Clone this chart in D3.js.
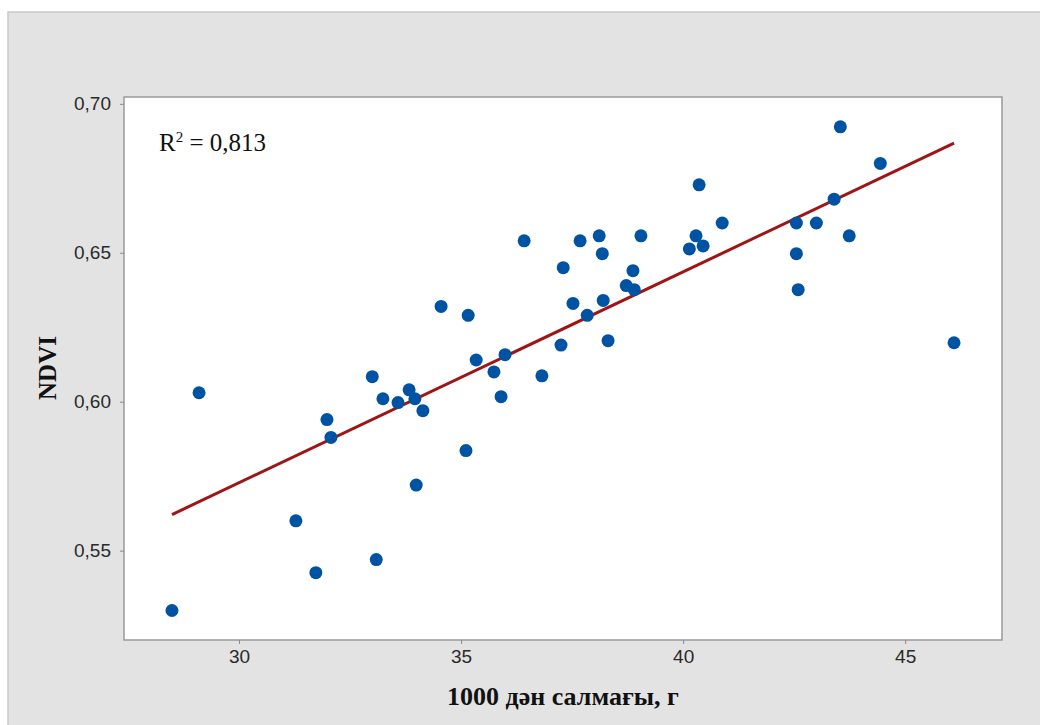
<!DOCTYPE html>
<html>

<head>
    <script src="https://d3js.org/d3.v7.min.js"></script>
    <style>
        body {
            margin: 0;
            background: #ffffff;
        }
    </style>
</head>

<body>
    <svg id="chart" width="1040" height="725"></svg>

    <script>
        // 1000 grain weight (g) vs NDVI
        var grainWeight = [
            28.49, 29.10, 31.28, 31.73, 31.98, 32.07, 33.00, 33.09, 33.24, 33.58,
            33.83, 33.96, 33.99, 34.14, 34.55, 35.11, 35.16, 35.34, 35.74, 35.90,
            35.99, 36.42, 36.82, 37.25, 37.30, 37.52, 37.68, 37.84, 38.11, 38.18,
            38.20, 38.31, 38.72, 38.87, 38.90, 39.05, 40.14, 40.29, 40.36, 40.45,
            40.88, 42.55, 42.55, 42.59, 43.00, 43.40, 43.54, 43.74, 44.44, 46.10
        ];

        var ndvi = [
            0.5299, 0.6030, 0.5600, 0.5426, 0.5940, 0.5880, 0.6084, 0.5470, 0.6010, 0.5997,
            0.6040, 0.6010, 0.5720, 0.5970, 0.6320, 0.5836, 0.6290, 0.6140, 0.6100, 0.6017,
            0.6158, 0.6540, 0.6087, 0.6190, 0.6450, 0.6330, 0.6540, 0.6290, 0.6557, 0.6497,
            0.6340, 0.6205, 0.6390, 0.6440, 0.6376, 0.6557, 0.6513, 0.6557, 0.6728, 0.6523,
            0.6600, 0.6600, 0.6497, 0.6376, 0.6600, 0.6680, 0.6923, 0.6557, 0.6800, 0.6198
        ];

        var xTicks = [30, 35, 40, 45];
        var yTicks = [0.55, 0.60, 0.65, 0.70];

        // fitted line
        var fitSlope = 0.00708;
        var fitIntercept = 0.3604;
        var rSquared = "0,813";

        var svg = d3.select("#chart");

        var plotLeft = 124, plotRight = 1002, plotTop = 97, plotBottom = 640;
        var tickFont = "'Liberation Sans', Arial, sans-serif";
        var serifFont = "'Liberation Serif', 'Times New Roman', serif";

        // grey panel behind everything
        svg.append("rect")
            .attr("x", 8)
            .attr("y", 12)
            .attr("width", 1040)
            .attr("height", 725)
            .attr("fill", "#e3e3e3")
            .attr("stroke", "#c9c9c9")
            .attr("stroke-width", 1.5);

        var x = d3.scaleLinear()
            .domain([27.41, 47.18])
            .range([plotLeft, plotRight]);

        var y = d3.scaleLinear()
            .domain([0.520, 0.7023])
            .range([plotBottom, plotTop]);

        // plot area
        svg.append("rect")
            .attr("x", plotLeft)
            .attr("y", plotTop)
            .attr("width", plotRight - plotLeft)
            .attr("height", plotBottom - plotTop)
            .attr("fill", "#ffffff")
            .attr("stroke", "#9a9a9a")
            .attr("stroke-width", 1.5);

        var commaFormat = function (d) {
            return d3.format(".2f")(d).replace(".", ",");
        };

        // y axis
        var yAxis = svg.append("g")
            .attr("transform", "translate(" + plotLeft + ",0)")
            .call(d3.axisLeft(y).tickValues(yTicks).tickSize(4).tickPadding(9).tickFormat(commaFormat));
        yAxis.select(".domain").remove();
        yAxis.attr("font-family", tickFont).attr("font-size", 19);
        yAxis.selectAll("line").attr("stroke", "#8a8a8a");
        yAxis.selectAll("text").attr("fill", "#2a2a2a");

        // x axis
        var xAxis = svg.append("g")
            .attr("transform", "translate(0," + plotBottom + ")")
            .call(d3.axisBottom(x).tickValues(xTicks).tickSize(4).tickPadding(6));
        xAxis.select(".domain").remove();
        xAxis.attr("font-family", tickFont).attr("font-size", 19);
        xAxis.selectAll("line").attr("stroke", "#8a8a8a");
        xAxis.selectAll("text").attr("fill", "#2a2a2a");

        // axis titles
        svg.append("text")
            .attr("x", 563)
            .attr("y", 705)
            .attr("text-anchor", "middle")
            .attr("font-family", serifFont)
            .attr("font-weight", "bold")
            .attr("font-size", 26)
            .attr("fill", "#111")
            .text("1000 дән салмағы, г");

        svg.append("text")
            .attr("transform", "translate(56,368) rotate(-90)")
            .attr("text-anchor", "middle")
            .attr("font-family", serifFont)
            .attr("font-weight", "bold")
            .attr("font-size", 25)
            .attr("fill", "#111")
            .text("NDVI");

        // regression line
        var xExtent = d3.extent(grainWeight);
        var fitLine = d3.line()
            .x(function (d) { return x(d); })
            .y(function (d) { return y(fitIntercept + fitSlope * d); });

        svg.append("path")
            .datum(xExtent)
            .attr("d", fitLine)
            .attr("fill", "none")
            .attr("stroke", "#9e1515")
            .attr("stroke-width", 3);

        // points
        svg.selectAll(".dot")
            .data(grainWeight)
            .enter().append("circle")
            .attr("class", "dot")
            .attr("cx", function (d) { return x(d); })
            .attr("cy", function (d, i) { return y(ndvi[i]); })
            .attr("r", 6.5)
            .attr("fill", "#0053a3");

        // R squared label
        var r2 = svg.append("text")
            .attr("x", 159)
            .attr("y", 151)
            .attr("font-family", serifFont)
            .attr("font-size", 25)
            .attr("fill", "#111");
        r2.append("tspan").text("R");
        r2.append("tspan").attr("font-size", 15).attr("dy", -9).text("2");
        r2.append("tspan").attr("dy", 9).text(" = " + rSquared);
    </script>
</body>

</html>
